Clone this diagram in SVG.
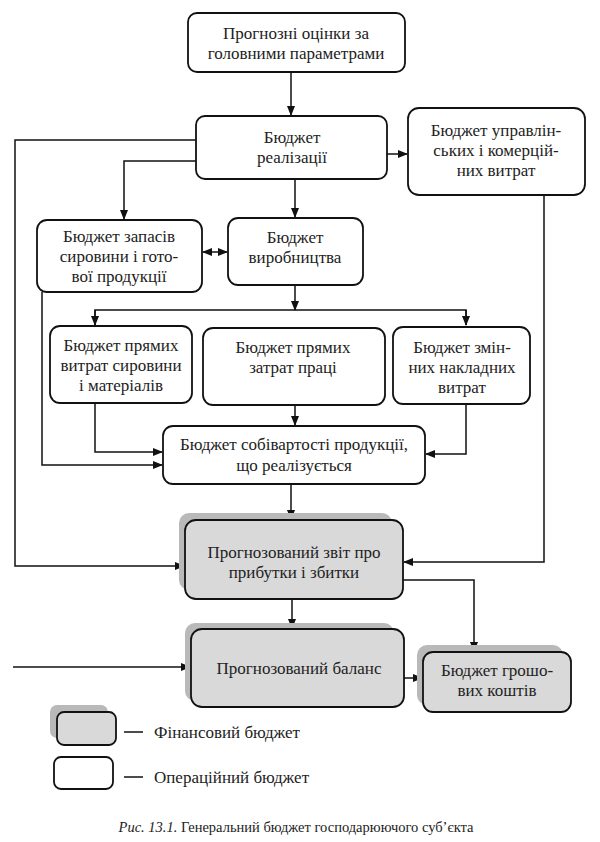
<svg xmlns="http://www.w3.org/2000/svg" width="600" height="842" viewBox="0 0 600 842" font-family="Liberation Serif, DejaVu Serif, Times New Roman, serif">
<style>
.box{fill:#fff;stroke:#111;stroke-width:1.8}
.fin{fill:#d9d9d9;stroke:#111;stroke-width:1.8}
.sh{fill:#b9b9b9}
.t{font-size:17px;text-anchor:middle;dominant-baseline:central;fill:#222}
.lg{font-size:17px;dominant-baseline:central;fill:#222}
.cap{font-size:14.5px;text-anchor:middle;dominant-baseline:central;fill:#222}
.c{fill:none;stroke:#111;stroke-width:1.5}
</style>
<defs>
<marker id="a" markerUnits="userSpaceOnUse" markerWidth="10" markerHeight="8" refX="9" refY="4" orient="auto"><path d="M0,0 L10,4 L0,8 z" fill="#111"/></marker>
<marker id="as" markerUnits="userSpaceOnUse" markerWidth="10" markerHeight="8" refX="1" refY="4" orient="auto"><path d="M10,0 L0,4 L10,8 z" fill="#111"/></marker>
</defs>
<rect width="600" height="842" fill="#fff"/>

<g id="connectors">
<path class="c" d="M291,72 V115" marker-end="url(#a)"/>
<path class="c" d="M387,154 H407" marker-end="url(#a)"/>
<path class="c" d="M196,140 H15 V566 H184" marker-end="url(#a)"/>
<path class="c" d="M196,161 H124 V219" marker-end="url(#a)"/>
<path class="c" d="M295,179 V217" marker-end="url(#a)"/>
<path class="c" d="M544,195 V562 H404" marker-end="url(#a)"/>
<path class="c" d="M203,252 H227" marker-start="url(#as)" marker-end="url(#a)"/>
<path class="c" d="M42,292 V465 H162" marker-end="url(#a)"/>
<path class="c" d="M295,285 V310" marker-end="url(#a)"/>
<path class="c" d="M95,325 V310 H466 V325"/>
<path class="c" d="M95,310 V325" marker-end="url(#a)"/>
<path class="c" d="M466,310 V325" marker-end="url(#a)"/>
<path class="c" d="M95,403 V452 H162" marker-end="url(#a)"/>
<path class="c" d="M295,405 V425" marker-end="url(#a)"/>
<path class="c" d="M466,404 V454 H426" marker-end="url(#a)"/>
<path class="c" d="M291,484 V519" marker-end="url(#a)"/>
<path class="c" d="M403,580 H474 V651" marker-end="url(#a)"/>
<path class="c" d="M292,599 V628" marker-end="url(#a)"/>
<path class="c" d="M13,667 H190" marker-end="url(#a)"/>
<path class="c" d="M404,678 H422" marker-end="url(#a)"/>
</g>

<g id="n_prognoz">
<rect class="box" x="188" y="13" width="217" height="59" rx="9"/>
<text class="t" x="296" y="33">Прогнозні оцінки за</text>
<text class="t" x="296" y="53">головними параметрами</text>
</g>

<g id="n_realizatsii">
<rect class="box" x="196" y="116" width="191" height="63" rx="9"/>
<text class="t" x="292" y="137">Бюджет</text>
<text class="t" x="292" y="157">реалізації</text>
</g>

<g id="n_upravlinskykh">
<rect class="box" x="408" y="108" width="177" height="87" rx="11"/>
<text class="t" x="496" y="130">Бюджет управлін-</text>
<text class="t" x="496" y="150">ських і комерцій-</text>
<text class="t" x="496" y="170">них витрат</text>
</g>

<g id="n_zapasiv">
<rect class="box" x="37" y="220" width="165" height="72" rx="10"/>
<text class="t" x="119" y="236">Бюджет запасів</text>
<text class="t" x="119" y="256">сировини і гото-</text>
<text class="t" x="119" y="276">вої продукції</text>
</g>

<g id="n_vyrobnytstva">
<rect class="box" x="228" y="218" width="135" height="67" rx="10"/>
<text class="t" x="295" y="237">Бюджет</text>
<text class="t" x="295" y="257">виробництва</text>
</g>

<g id="n_syrovyny">
<rect class="box" x="50" y="326" width="142" height="77" rx="10"/>
<text class="t" x="121" y="345">Бюджет прямих</text>
<text class="t" x="121" y="365">витрат сировини</text>
<text class="t" x="121" y="385">і матеріалів</text>
</g>

<g id="n_pratsi">
<rect class="box" x="203" y="328" width="182" height="77" rx="10"/>
<text class="t" x="293" y="347">Бюджет прямих</text>
<text class="t" x="293" y="367">затрат праці</text>
</g>

<g id="n_nakladnykh">
<rect class="box" x="393" y="327" width="137" height="77" rx="10"/>
<text class="t" x="462" y="347">Бюджет змін-</text>
<text class="t" x="462" y="367">них накладних</text>
<text class="t" x="462" y="387">витрат</text>
</g>

<g id="n_sobivartosti">
<rect class="box" x="163" y="426" width="262" height="58" rx="10"/>
<text class="t" x="294" y="444">Бюджет собівартості продукції,</text>
<text class="t" x="294" y="465">що реалізується</text>
</g>

<g id="n_zvit">
<rect class="sh" x="179" y="513" width="213" height="77" rx="10"/>
<rect class="fin" x="185" y="520" width="218" height="79" rx="11"/>
<text class="t" x="294" y="552">Прогнозований звіт про</text>
<text class="t" x="294" y="572">прибутки і збитки</text>
</g>

<g id="n_balans">
<rect class="sh" x="185" y="623" width="209" height="78" rx="10"/>
<rect class="fin" x="191" y="629" width="213" height="78" rx="11"/>
<text class="t" x="299" y="668">Прогнозований баланс</text>
</g>

<g id="n_groshovykh">
<rect class="sh" x="417" y="645" width="146" height="60" rx="10"/>
<rect class="fin" x="423" y="652" width="148" height="60" rx="10"/>
<text class="t" x="497" y="670">Бюджет грошо-</text>
<text class="t" x="497" y="690">вих коштів</text>
</g>

<g id="legend">
<rect class="sh" x="50" y="705" width="58" height="33" rx="7"/>
<rect class="fin" x="57" y="712" width="59" height="33" rx="7"/>
<line class="c" x1="124" y1="732" x2="143" y2="732"/>
<text class="lg" x="154" y="732">Фінансовий бюджет</text>
<rect class="box" x="54" y="757" width="59" height="32" rx="7"/>
<line class="c" x1="124" y1="777" x2="143" y2="777"/>
<text class="lg" x="154" y="777">Операційний бюджет</text>
</g>

<text class="cap" x="296" y="827"><tspan font-style="italic">Рис. 13.1.</tspan> Генеральний бюджет господарюючого суб’єкта</text>
</svg>
